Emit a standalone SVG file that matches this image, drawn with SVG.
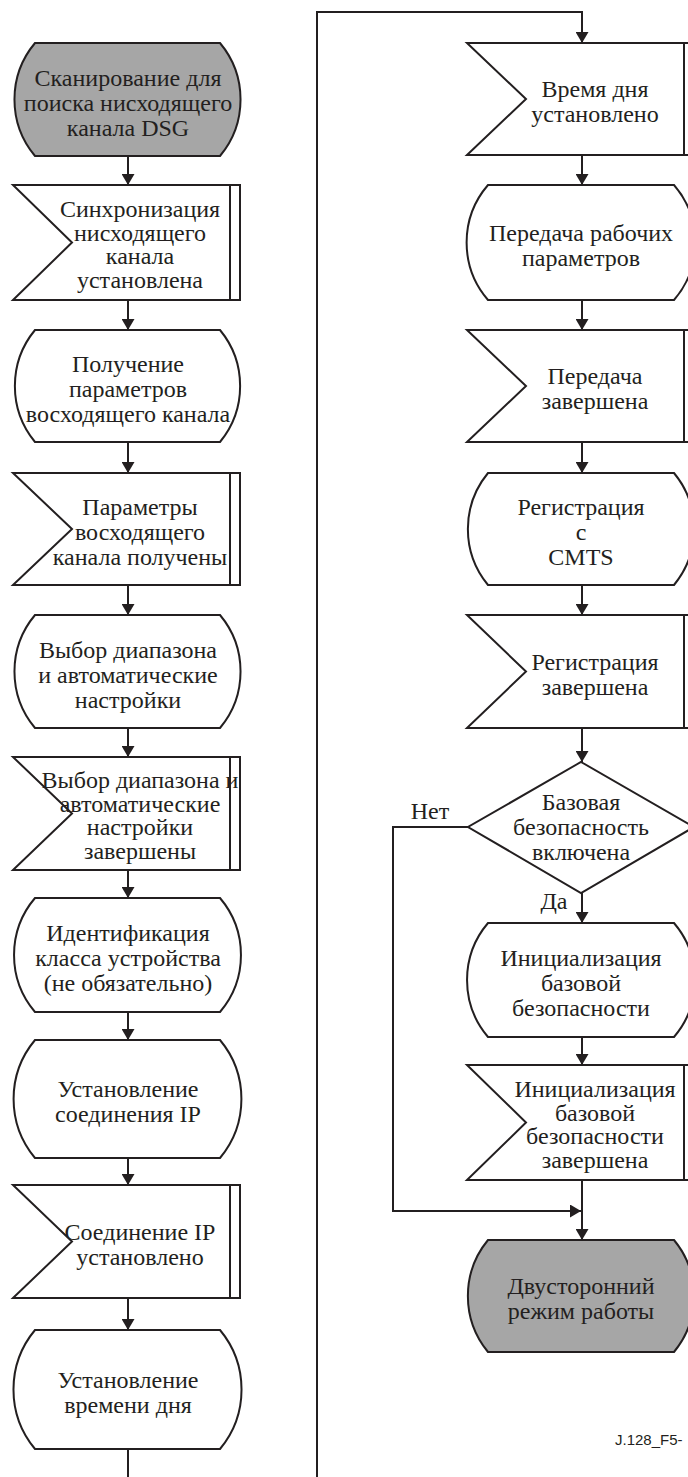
<svg xmlns="http://www.w3.org/2000/svg" width="688" height="1477" viewBox="0 0 688 1477">
<style>
.s{fill:#fff;stroke:#231f20;stroke-width:2}
.g{fill:#a6a6a6;stroke:#231f20;stroke-width:2}
.b{fill:none;stroke:#231f20;stroke-width:2}
text{font-family:"Liberation Serif","Times New Roman",serif;font-size:24px;fill:#231f20;text-anchor:middle}
.c{fill:none;stroke:#231f20;stroke-width:2}
.lab{font-family:"Liberation Sans",Arial,sans-serif;font-size:15px;text-anchor:start}
</style>
<defs>
<marker id="ah" viewBox="0 0 11 13" refX="11" refY="6.5" markerWidth="11" markerHeight="13" markerUnits="userSpaceOnUse" orient="auto">
<path d="M0,0 L11,6.5 L0,13 z" fill="#231f20"/>
</marker>
</defs>
<rect width="688" height="1477" fill="#fff"/>
<g id="connectors">
<path class="c" d="M128,156 V185" marker-end="url(#ah)"/>
<path class="c" d="M128,300 V330" marker-end="url(#ah)"/>
<path class="c" d="M128,442 V473" marker-end="url(#ah)"/>
<path class="c" d="M128,585 V615" marker-end="url(#ah)"/>
<path class="c" d="M128,728 V757" marker-end="url(#ah)"/>
<path class="c" d="M128,870 V898" marker-end="url(#ah)"/>
<path class="c" d="M128,1012 V1040" marker-end="url(#ah)"/>
<path class="c" d="M128,1158 V1185" marker-end="url(#ah)"/>
<path class="c" d="M128,1298 V1330" marker-end="url(#ah)"/>
<path class="c" d="M128,1449 V1480"/>
<path class="c" d="M317,1480 V12 H582 V43" marker-end="url(#ah)"/>
<path class="c" d="M582,155 V185" marker-end="url(#ah)"/>
<path class="c" d="M582,300 V330" marker-end="url(#ah)"/>
<path class="c" d="M582,442 V473" marker-end="url(#ah)"/>
<path class="c" d="M582,585 V615" marker-end="url(#ah)"/>
<path class="c" d="M582,728 V762" marker-end="url(#ah)"/>
<path class="c" d="M582,893 V923" marker-end="url(#ah)"/>
<path class="c" d="M582,1037 V1065" marker-end="url(#ah)"/>
<path class="c" d="M582,1180 V1240" marker-end="url(#ah)"/>
<path class="c" d="M468,827 H393 V1211 H581" marker-end="url(#ah)"/>
<text x="430" y="819">Нет</text>
<text x="554" y="909">Да</text>
</g>
<g id="n1">
<path class="g" d="M35,43 H220 A88,88 0 0 1 220,156 H35 A88,88 0 0 1 35,43 Z"/>
<text x="128" y="86">Сканирование для</text>
<text x="128" y="111">поиска нисходящего</text>
<text x="128" y="136">канала DSG</text>
</g>
<g id="n2">
<path class="s" d="M13,185 H240 V300 H13 L72,242.5 Z"/>
<line class="b" x1="230" y1="185" x2="230" y2="300"/>
<text x="140" y="217">Синхронизация</text>
<text x="140" y="240.5">нисходящего</text>
<text x="140" y="264">канала</text>
<text x="140" y="287.5">установлена</text>
</g>
<g id="n3">
<path class="s" d="M35,330 H220 A88,88 0 0 1 220,442 H35 A88,88 0 0 1 35,330 Z"/>
<text x="128" y="372">Получение</text>
<text x="128" y="397">параметров</text>
<text x="128" y="422">восходящего канала</text>
</g>
<g id="n4">
<path class="s" d="M13,473 H240 V585 H13 L72,529 Z"/>
<line class="b" x1="230" y1="473" x2="230" y2="585"/>
<text x="140" y="515">Параметры</text>
<text x="140" y="540">восходящего</text>
<text x="140" y="565">канала получены</text>
</g>
<g id="n5">
<path class="s" d="M35,615 H220 A88,88 0 0 1 220,728 H35 A88,88 0 0 1 35,615 Z"/>
<text x="128" y="657.5">Выбор диапазона</text>
<text x="128" y="682.5">и автоматические</text>
<text x="128" y="707.5">настройки</text>
</g>
<g id="n6">
<path class="s" d="M13,757 H240 V870 H13 L72,813.5 Z"/>
<line class="b" x1="230" y1="757" x2="230" y2="870"/>
<text x="140" y="788">Выбор диапазона и</text>
<text x="140" y="811.5">автоматические</text>
<text x="140" y="835">настройки</text>
<text x="140" y="858.5">завершены</text>
</g>
<g id="n7">
<path class="s" d="M35,898 H220 A88,88 0 0 1 220,1012 H35 A88,88 0 0 1 35,898 Z"/>
<text x="128" y="941">Идентификация</text>
<text x="128" y="966">класса устройства</text>
<text x="128" y="991">(не обязательно)</text>
</g>
<g id="n8">
<path class="s" d="M35,1040 H220 A92,92 0 0 1 220,1158 H35 A92,92 0 0 1 35,1040 Z"/>
<text x="128" y="1097">Установление</text>
<text x="128" y="1122">соединения IP</text>
</g>
<g id="n9">
<path class="s" d="M13,1185 H240 V1298 H13 L72,1241.5 Z"/>
<line class="b" x1="230" y1="1185" x2="230" y2="1298"/>
<text x="140" y="1239.5">Соединение IP</text>
<text x="140" y="1264.5">установлено</text>
</g>
<g id="n10">
<path class="s" d="M35,1330 H220 A93,93 0 0 1 220,1449 H35 A93,93 0 0 1 35,1330 Z"/>
<text x="128" y="1387.5">Установление</text>
<text x="128" y="1412.5">времени дня</text>
</g>
<g id="n11">
<path class="s" d="M467,43 H694 V155 H467 L526,99 Z"/>
<line class="b" x1="684" y1="43" x2="684" y2="155"/>
<text x="595" y="97">Время дня</text>
<text x="595" y="122">установлено</text>
</g>
<g id="n12">
<path class="s" d="M488,185 H674 A88,88 0 0 1 674,300 H488 A88,88 0 0 1 488,185 Z"/>
<text x="581" y="240.5">Передача рабочих</text>
<text x="581" y="265.5">параметров</text>
</g>
<g id="n13">
<path class="s" d="M467,330 H694 V442 H467 L526,386 Z"/>
<line class="b" x1="684" y1="330" x2="684" y2="442"/>
<text x="595" y="384">Передача</text>
<text x="595" y="409">завершена</text>
</g>
<g id="n14">
<path class="s" d="M488,473 H674 A88,88 0 0 1 674,585 H488 A88,88 0 0 1 488,473 Z"/>
<text x="581" y="515">Регистрация</text>
<text x="581" y="540">с</text>
<text x="581" y="565">CMTS</text>
</g>
<g id="n15">
<path class="s" d="M467,615 H694 V728 H467 L526,671.5 Z"/>
<line class="b" x1="684" y1="615" x2="684" y2="728"/>
<text x="595" y="669.5">Регистрация</text>
<text x="595" y="694.5">завершена</text>
</g>
<g id="n16">
<path class="s" d="M581,762 L694,827 L581,893 L468,827 Z"/>
<text x="581" y="810">Базовая</text>
<text x="581" y="835">безопасность</text>
<text x="581" y="860">включена</text>
</g>
<g id="n17">
<path class="s" d="M488,923 H674 A88,88 0 0 1 674,1037 H488 A88,88 0 0 1 488,923 Z"/>
<text x="581" y="966">Инициализация</text>
<text x="581" y="991">базовой</text>
<text x="581" y="1016">безопасности</text>
</g>
<g id="n18">
<path class="s" d="M467,1065 H694 V1180 H467 L526,1122.5 Z"/>
<line class="b" x1="684" y1="1065" x2="684" y2="1180"/>
<text x="595" y="1097">Инициализация</text>
<text x="595" y="1120.5">базовой</text>
<text x="595" y="1144">безопасности</text>
<text x="595" y="1167.5">завершена</text>
</g>
<g id="n19">
<path class="g" d="M488,1240 H674 A88,88 0 0 1 674,1352 H488 A88,88 0 0 1 488,1240 Z"/>
<text x="581" y="1294">Двусторонний</text>
<text x="581" y="1319">режим работы</text>
</g>
<text class="lab" x="615" y="1445">J.128_F5-</text>
</svg>
